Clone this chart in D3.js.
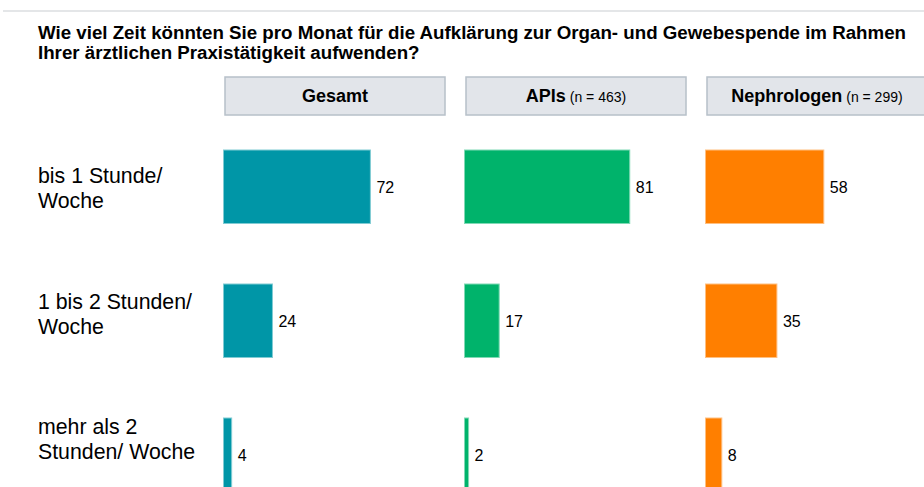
<!DOCTYPE html>
<html><head><meta charset="utf-8">
<script src="https://cdn.jsdelivr.net/npm/d3@7"></script>
<style>html,body{margin:0;padding:0;background:#fff;overflow:hidden}svg{display:block;font-family:Arial,"Liberation Sans",sans-serif}</style>
</head><body>
<svg id="c" width="924" height="487"></svg>
<script>
const titleLines = ["Wie viel Zeit könnten Sie pro Monat für die Aufklärung zur Organ- und Gewebespende im Rahmen", "Ihrer ärztlichen Praxistätigkeit aufwenden?"];
const categories = ["bis 1 Stunde/\nWoche", "1 bis 2 Stunden/\nWoche", "mehr als 2\nStunden/ Woche"];
const groups = ["Gesamt", "APIs", "Nephrologen"];
const groupN = ["", "(n = 463)", "(n = 299)"];
const colors = ["#0096A7", "#00B36B", "#FF7F00"];
const gesamt = [72, 24, 4];
const apis = [81, 17, 2];
const nephrologen = [58, 35, 8];
const seriesValues = [gesamt, apis, nephrologen];

const svg = d3.select("#c");

// top rule
svg.append("line").attr("x1", 3).attr("x2", 924).attr("y1", 11).attr("y2", 11)
  .attr("stroke", "#E4E6E8").attr("stroke-width", 2);

// title: slightly wide-set glyphs, first line spans to the right margin
const title = svg.append("text").attr("font-weight", "bold").attr("font-size", 17.5).attr("fill", "#000");
const tl = title.selectAll("tspan").data(titleLines).join("tspan")
  .attr("x", 38).attr("y", (d, i) => 38.5 + i * 20).text(d => d);
let stretch = 1;
tl.each(function(d, i) {
  if (i === 0) stretch = 868 / this.getComputedTextLength();
});
tl.each(function() {
  const w = this.getComputedTextLength();
  d3.select(this).attr("textLength", w * stretch).attr("lengthAdjust", "spacingAndGlyphs");
});

// scales
const panelX = d3.scalePoint().domain(groups).range([223.5, 705.5]);
const x = d3.scaleLinear().domain([0, 100]).range([0, 204]);
const barH = 73.5, step = 134;
const y = d3.scaleBand().domain(categories).range([150, 150 + 2 * step + barH]).paddingInner(1 - barH / step).paddingOuter(0);
const labelY = d3.scalePoint().domain(categories).range([183, 434]);

// headers
const hdr = svg.append("g").selectAll("g").data(groups).join("g")
  .attr("transform", d => `translate(${panelX(d) + 1.5},77)`);
hdr.append("rect").attr("width", 220).attr("height", 38)
  .attr("fill", "#E2E5EA").attr("stroke", "#B7C0C9").attr("stroke-width", 1.5);
hdr.append("text").attr("x", 110).attr("y", 25).attr("text-anchor", "middle").attr("fill", "#000")
  .each(function(d, i) {
    const t = d3.select(this);
    t.append("tspan").attr("font-weight", "bold").attr("font-size", 18).text(d);
    if (groupN[i]) t.append("tspan").attr("font-size", 14).text(" " + groupN[i]);
  });

// row labels
svg.append("g").selectAll("text").data(categories).join("text")
  .attr("font-size", 21.3).attr("fill", "#000")
  .each(function(d) {
    d3.select(this).selectAll("tspan").data(d.split("\n")).join("tspan")
      .attr("x", 38).attr("y", (s, j) => labelY(d) + j * 25).text(s => s);
  });

// bars
groups.forEach((g, gi) => {
  const data = categories.map((c, ci) => ({c, v: seriesValues[gi][ci]}));
  const col = colors[gi];
  const gg = svg.append("g").attr("transform", `translate(${panelX(g)},0)`);
  gg.selectAll("rect").data(data).join("rect")
    .attr("x", 0).attr("y", d => y(d.c)).attr("width", d => x(d.v)).attr("height", y.bandwidth())
    .attr("fill", col).attr("stroke", d3.interpolateRgb(col, "#fff")(0.5)).attr("stroke-width", 1);
  gg.selectAll("text").data(data).join("text")
    .attr("x", d => x(d.v) + 6).attr("y", d => y(d.c) + y.bandwidth() / 2).attr("dy", "0.36em")
    .attr("font-size", 16).attr("fill", "#000").text(d => d.v);
});
</script>
</body></html>
